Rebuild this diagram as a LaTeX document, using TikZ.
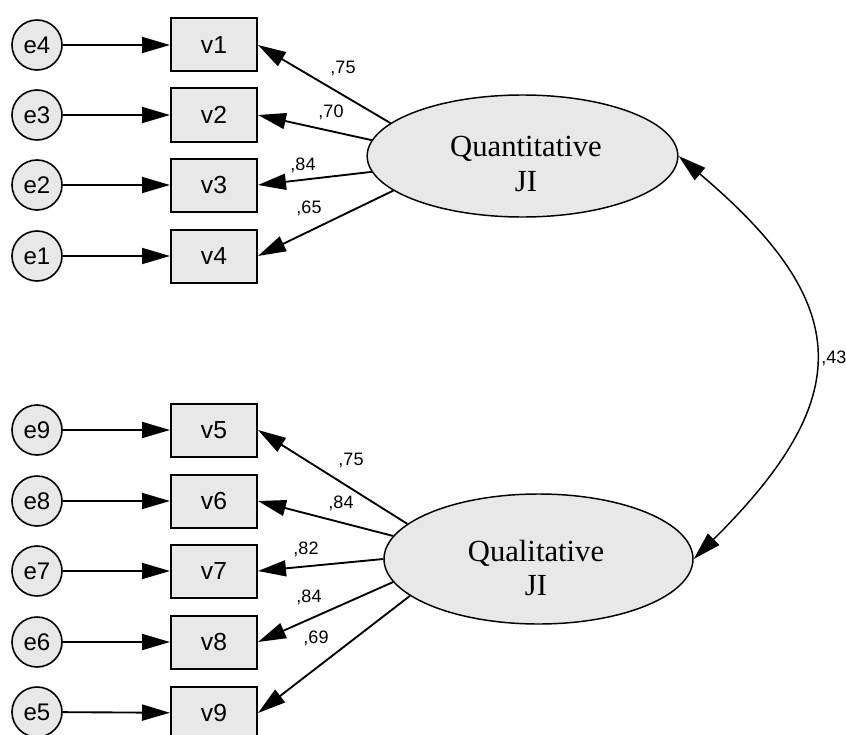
\documentclass[tikz,border=0pt]{standalone}
\usepackage{fontspec}
\setmainfont{Liberation Sans}
\newfontfamily\timesfont{Liberation Serif}
\usetikzlibrary{shapes.geometric,arrows.meta}

\begin{document}
\begin{tikzpicture}[x=0.75pt,y=-0.75pt,
        errvar/.style={circle,draw,line width=1.2pt,fill=black!9,minimum size=37.5pt,inner sep=0pt,font=\fontsize{18}{18}\selectfont},
        obsvar/.style={rectangle,draw,line width=1.5pt,fill=black!9,minimum width=64.5pt,minimum height=39.75pt,inner sep=0pt,font=\fontsize{18.5}{18.5}\selectfont},
        latvar/.style={ellipse,draw,line width=1.1pt,fill=black!9,inner sep=0pt},
        lvtext/.style={align=center,inner sep=0pt,font=\timesfont\fontsize{23}{26}\selectfont},
        coef/.style={inner sep=0pt,font=\fontsize{13.5}{13.5}\selectfont},
        regr/.style={line width=1.4pt,-{Triangle[length=21pt,width=12pt]}},
        cov/.style={line width=1.1pt,{Triangle[length=21pt,width=12pt]}-{Triangle[length=21pt,width=12pt]}}]
        \useasboundingbox (0,0) rectangle (846,735) ;
        % upper block
        \node[errvar] (e4) at (37,45) {e4} ;
        \node[errvar] (e3) at (37,115) {e3} ;
        \node[errvar] (e2) at (37,185) {e2} ;
        \node[errvar] (e1) at (37,256) {e1} ;
        \node[obsvar] (v1) at (214,45) {v1} ;
        \node[obsvar] (v2) at (214,115) {v2} ;
        \node[obsvar] (v3) at (214,185) {v3} ;
        \node[obsvar] (v4) at (214,256) {v4} ;
        \node[latvar,minimum width=233pt,minimum height=91.5pt] (quant) at (522.5,156) {} ;
        \node[lvtext] (quanttxt) at (526,164) {Quantitative\\JI} ;
        \draw[regr] (e4) -- (v1) ;
        \draw[regr] (e3) -- (v2) ;
        \draw[regr] (e2) -- (v3) ;
        \draw[regr] (e1) -- (v4) ;
        \draw[regr] (quant.166) -- (v1.east) ;
        \draw[regr] (quant.174) -- (v2.east) ;
        \draw[regr] (quant.186) -- (v3.east) ;
        \draw[regr] (quant.195) -- (v4.east) ;
        \node[coef] (c1) at (343,68) {,75} ;
        \node[coef] (c2) at (331,112) {,70} ;
        \node[coef] (c3) at (303,165) {,84} ;
        \node[coef] (c4) at (309,208) {,65} ;
        % lower block
        \node[errvar] (e9) at (37,430) {e9} ;
        \node[errvar] (e8) at (37,501) {e8} ;
        \node[errvar] (e7) at (37,571) {e7} ;
        \node[errvar] (e6) at (37,642) {e6} ;
        \node[errvar] (e5) at (37,712) {e5} ;
        \node[obsvar] (v5) at (214,430) {v5} ;
        \node[obsvar] (v6) at (214,501) {v6} ;
        \node[obsvar] (v7) at (214,571) {v7} ;
        \node[obsvar] (v8) at (214,642) {v8} ;
        \node[obsvar] (v9) at (214,713) {v9} ;
        \node[latvar,minimum width=231.75pt,minimum height=97.5pt] (qual) at (538.5,559) {} ;
        \node[lvtext] (qualtxt) at (536,568) {Qualitative\\JI} ;
        \draw[regr] (e9) -- (v5) ;
        \draw[regr] (e8) -- (v6) ;
        \draw[regr] (e7) -- (v7) ;
        \draw[regr] (e6) -- (v8) ;
        \draw[regr] (e5) -- (v9) ;
        \draw[regr] (qual.165) -- (v5.east) ;
        \draw[regr] (qual.171) -- (v6.east) ;
        \draw[regr] (qual.180) -- (v7.east) ;
        \draw[regr] (qual.189) -- (v8.east) ;
        \draw[regr] (qual.196) -- (v9.east) ;
        \node[coef] (c5) at (351,460) {,75} ;
        \node[coef] (c6) at (341,503) {,84} ;
        \node[coef] (c7) at (306,549) {,82} ;
        \node[coef] (c8) at (309,597) {,84} ;
        \node[coef] (c9) at (316,638) {,69} ;
        % correlation
        \draw[cov] (quant.east) .. controls (855,305) and (856,398) .. (qual.east) ;
        \node[coef,anchor=west] (c10) at (821,358) {,43} ;
    \end{tikzpicture}
\end{document}
